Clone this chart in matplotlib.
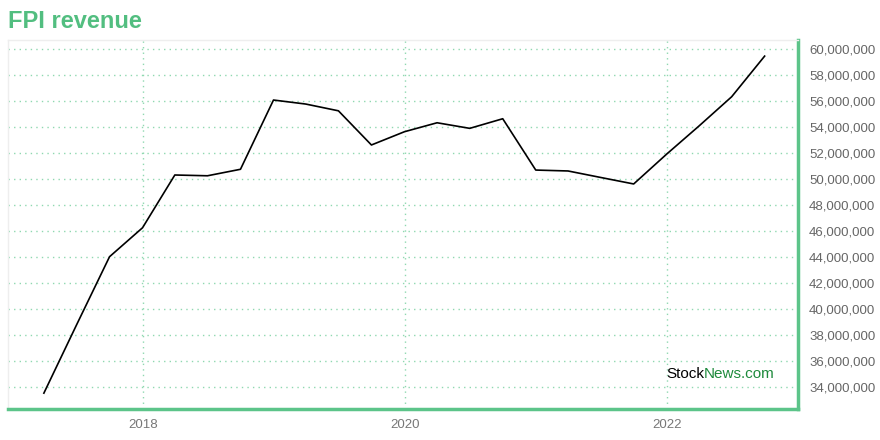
import matplotlib
matplotlib.use("Agg")
import matplotlib.pyplot as plt
import matplotlib.dates as mdates
from matplotlib.ticker import FuncFormatter
import pandas as pd

plt.rcParams['font.family'] = ['Liberation Sans', 'DejaVu Sans']

dates = pd.date_range("2017-03-31", periods=23, freq="QE")
revenue = [33.52, 38.77, 44.02, 46.25, 50.31, 50.25, 50.75, 56.08, 55.77, 55.25,
           52.62, 53.64, 54.33, 53.90, 54.64, 50.69, 50.62, 50.12, 49.62, 51.92,
           54.08, 56.33, 59.46]
revenue = [v * 1e6 for v in revenue]
y_ticks = [34e6 + 2e6 * i for i in range(14)]
x_ticks = ["2018-01-01", "2020-01-01", "2022-01-01"]

green = "#5cc489"
fig = plt.figure(figsize=(8.8, 4.4), dpi=100)
ax = fig.add_axes([8/880, 1-409/440, 790/880, 369/440])

ax.plot(dates, revenue, color="black", lw=1.2, zorder=3)

ax.set_xlim(pd.Timestamp("2016-12-21"), pd.Timestamp("2023-01-01"))
ax.set_ylim(32.3e6, 60.7e6)
ax.set_yticks(y_ticks)
ax.yaxis.set_major_formatter(FuncFormatter(lambda v, p: f"{int(round(v)):,}"))
ax.set_xticks([pd.Timestamp(d) for d in x_ticks])
ax.xaxis.set_major_formatter(mdates.DateFormatter("%Y"))
ax.yaxis.tick_right()
ax.tick_params(axis="y", length=0, pad=8, labelsize=9.5, labelcolor="#666666")
ax.tick_params(axis="x", length=0, pad=7, labelsize=9.5, labelcolor="#777777")

ax.grid(True, color="#8fd8b0", linestyle=(0, (1, 3)), lw=1.0)
for s in ["left", "top"]:
    ax.spines[s].set_color("#eeeeee")
    ax.spines[s].set_linewidth(1)
for s in ["bottom", "right"]:
    ax.spines[s].set_color(green)
    ax.spines[s].set_linewidth(2.5)

fig.text(8/880, 1-22/440, "FPI revenue", color="#52be80", fontsize=17,
         fontweight="bold", ha="left", va="center")

t1 = fig.text(666/880, 1-374/440, "Stock", color="black", fontsize=11,
              ha="left", va="center")
ax.annotate("News.com", xy=(1, 0), xycoords=t1, va="bottom", ha="left",
            color="#1e8a3c", fontsize=11)

fig.savefig("out.png", dpi=100)
